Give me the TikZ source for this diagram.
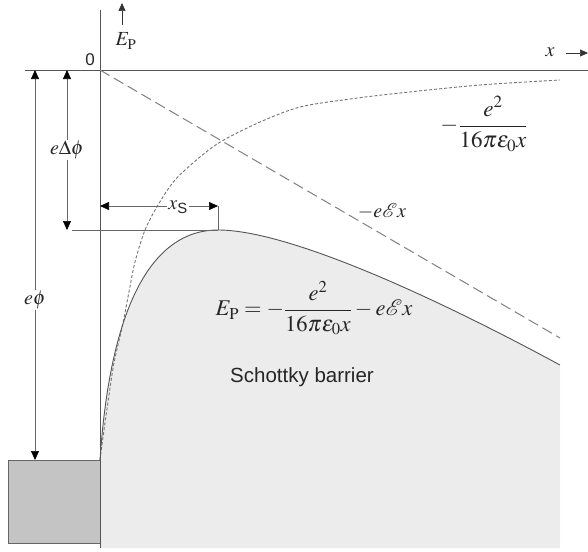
\documentclass[tikz,border=0pt]{standalone}
\usepackage{amsmath}
\usepackage{mathptmx}
\usepackage[no-math]{fontspec}
\setsansfont{Liberation Sans}
\usetikzlibrary{arrows.meta, positioning}
\definecolor{barriergray}{HTML}{ECECEC}
\definecolor{metalgray}{HTML}{C4C4C4}
\definecolor{inkgray}{HTML}{555555}
\tikzset{
    % Axes of the energy diagram
    axis line/.style={draw=inkgray, line width=0.9pt},
    % Small arrow beside the axis labels
    axis arrow/.style={draw=black!80, line width=0.6pt, -{Triangle[length=8pt,width=7pt]}},
    % Dimension arrows (e phi, e Delta phi, x_s)
    dim arrow/.style={draw=black!60, line width=0.6pt,
        {Triangle[length=9pt,width=8pt,color=black]}-{Triangle[length=9pt,width=8pt,color=black]}},
    dim line/.style={draw=black!60, line width=0.6pt},
    % Field term -eEx - long dashes
    field line/.style={draw=black!50, line width=1pt, dash pattern=on 11pt off 5pt},
    % Image charge term - short dashes
    image line/.style={draw=black!55, line width=0.9pt, dash pattern=on 3pt off 2pt},
    % Resulting barrier
    barrier line/.style={draw=inkgray, line width=0.9pt},
    barrier fill/.style={fill=barriergray},
    metal block/.style={fill=metalgray, draw=black!60, line width=0.9pt},
    label box/.style={fill=white, inner sep=1.5pt},
    math label/.style={text=black!85, inner sep=1pt}
}

\begin{document}
\begin{tikzpicture}[x=1pt, y=-1pt, font=\fontsize{20}{24}\selectfont]
    \useasboundingbox (0,0) rectangle (588,551);

    % --- Barrier region under E_P ---
    \fill[barrier fill] (100,460) .. controls (110,310) and (150,230) .. (218,230)
        .. controls (290,230) and (440,300) .. (560,365) -- (560,548) -- (100,548) -- cycle;

    % --- Metal ---
    \draw[metal block] (8,460) rectangle (100,543);

    % --- Axes ---
    \coordinate (origin) at (100,70);
    \coordinate (xend) at (588,70);
    \coordinate (xstart) at (25,70);
    \coordinate (ytop) at (100,10);
    \coordinate (ybot) at (100,548);
    \draw[axis line] (xstart) -- (xend);
    \draw[axis line] (ytop) -- (ybot);
    \node[font=\sffamily\fontsize{17}{20}\selectfont, math label] (zero) at (90,60) {0};

    \coordinate (ep tail) at (122,25);
    \coordinate (ep tip) at (122,3);
    \draw[axis arrow] (ep tail) -- (ep tip);
    \node[math label] (ep) at (126,41) {$E_{\mathrm{P}}$};

    \node[math label] (xlab) at (550,52) {$x$};
    \coordinate (x tail) at (566,53);
    \coordinate (x tip) at (588,53);
    \draw[axis arrow] (x tail) -- (x tip);

    % --- Field term and image charge term ---
    \coordinate (field end) at (560,338);
    \draw[field line] (origin) -- (field end);
    \draw[image line] plot[smooth] coordinates {(100,460) (104,430) (109,395) (114,363) (123,323) (128,297) (135,262) (145,230) (158,205) (175,180) (200,157) (222,141) (260,122) (300,107) (350,99) (400,93) (480,85) (560,80)};

    % --- Resulting barrier curve ---
    \coordinate (peak) at (218,230);
    \draw[barrier line] (100,460) .. controls (110,310) and (150,230) .. (peak)
        .. controls (290,230) and (440,300) .. (560,365);

    % --- Dimensions ---
    \coordinate (phi top) at (35,70);
    \coordinate (phi bot) at (35,460);
    \draw[dim arrow] (phi top) -- (phi bot);
    \node[label box, math label] (phi) at (35,300) {$e\phi$};

    \coordinate (dphi top) at (67,70);
    \coordinate (dphi bot) at (67,230);
    \draw[dim arrow] (dphi top) -- (dphi bot);
    \node[label box, math label] (dphi) at (67,150) {$e\Delta\phi$};

    \coordinate (peak left) at (72,230);
    \draw[dim line] (peak left) -- (peak);
    \coordinate (xs left) at (100,206);
    \coordinate (xs right) at (218,206);
    \draw[dim line] (xs right) -- (peak);
    \draw[dim arrow] (xs left) -- (xs right);
    \node[label box, math label] (xs) at (178,207) {$x_{\textsf{S}}$};

    % --- Labels ---
    \node[math label, font=\fontsize{23}{27}\selectfont] (image term) at (484,124) {$\displaystyle -\frac{e^{2}}{16\pi\varepsilon_{0}x}$};
    \node[math label] (field term) at (382,211) {$-e\mathcal{E}x$};
    \node[math label, font=\fontsize{22.5}{27}\selectfont] (barrier eq) at (314,308) {$\displaystyle E_{\mathrm{P}}=-\frac{e^{2}}{16\pi\varepsilon_{0}x}-e\mathcal{E}x$};
    \node[font=\sffamily\fontsize{20.5}{24}\selectfont, text=black!85] (schottky) at (302,377) {Schottky barrier};
\end{tikzpicture}
\end{document}
